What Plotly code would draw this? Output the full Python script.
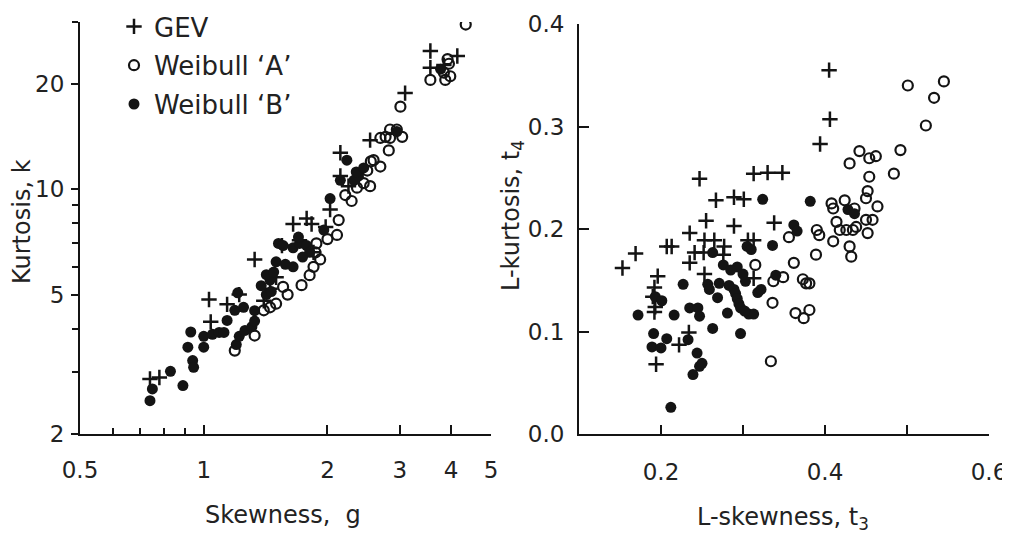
import plotly.graph_objects as go
import math

# ---------------- data ----------------
# Left panel: conventional skewness g vs kurtosis k
gev_g = [0.74, 0.78, 1.03, 1.04, 1.14, 1.22, 1.33, 1.65, 1.78, 1.83, 1.71, 2.03, 2.15, 2.15,
         2.54, 3.09, 3.56, 3.56, 4.14, 3.84, 1.45, 1.50, 1.40, 1.85, 2.25, 1.98, 1.55]
gev_k = [2.87, 2.90, 4.84, 4.18, 4.69, 5.00, 6.30, 7.95, 8.25, 7.95, 7.15, 8.75, 12.7, 10.9,
         13.8, 18.8, 24.8, 22.2, 24.0, 22.6, 5.2, 5.6, 4.8, 6.6, 10.2, 7.8, 6.9]

wa_g = [1.19, 1.33, 1.40, 1.50, 1.56, 1.73, 1.81, 1.85, 1.92, 1.87, 2.11, 2.13, 2.21, 2.29,
        2.36, 2.45, 2.54, 2.50, 2.55, 2.59, 2.69, 2.69, 2.77, 2.84, 2.82, 2.84, 2.95, 3.01,
        3.04, 3.56, 3.84, 3.92, 3.95, 3.98, 3.87, 4.34, 1.60, 1.88, 2.00, 1.45]
wa_k = [3.46, 3.82, 4.51, 4.71, 5.26, 5.32, 5.68, 6.0, 6.3, 6.6, 7.4, 8.16, 9.62, 9.25,
        10.1, 10.4, 10.2, 11.3, 12.0, 12.1, 11.6, 14.0, 14.1, 14.0, 12.9, 14.8, 14.8, 17.2,
        14.1, 20.5, 21.5, 23.5, 22.8, 21.0, 20.5, 29.5, 5.0, 7.0, 7.2, 4.6]

wb_g = [0.74, 0.75, 0.83, 0.89, 0.915, 0.93, 0.94, 0.945, 1.00, 1.00, 1.05, 1.09, 1.14, 1.19,
        1.21, 1.20, 1.22, 1.26, 1.31, 1.33, 1.33, 1.42, 1.45, 1.42, 1.48, 1.50, 1.52, 1.56,
        1.65, 1.71, 1.78, 1.81, 1.65, 1.96, 2.03, 2.15, 2.23, 2.32, 2.38, 2.35, 2.95, 3.77,
        1.38, 1.46, 1.58, 1.74, 2.45, 1.25, 1.12, 1.70]
wb_k = [2.49, 2.69, 3.02, 2.75, 3.54, 3.91, 3.24, 3.10, 3.54, 3.80, 3.85, 3.90, 4.22, 4.51,
        5.06, 3.60, 3.80, 3.95, 4.05, 4.20, 4.50, 5.0, 5.5, 5.7, 5.8, 6.2, 7.0, 6.9,
        6.8, 7.0, 6.9, 6.6, 6.0, 7.64, 9.4, 10.6, 12.1, 10.6, 10.9, 11.2, 14.6, 22.0,
        5.3, 5.1, 6.1, 6.4, 11.5, 4.6, 3.9, 7.3]

# Right panel: L-skewness t3 vs L-kurtosis t4
gev_t3 = [0.153, 0.169, 0.207, 0.213, 0.247, 0.267, 0.289, 0.301, 0.313, 0.255, 0.289, 0.235,
          0.253, 0.265, 0.277, 0.241, 0.252, 0.235, 0.253, 0.196, 0.192, 0.190, 0.306, 0.313,
          0.276, 0.330, 0.348, 0.338, 0.394, 0.406, 0.405, 0.193, 0.192, 0.222, 0.234, 0.194,
          0.313]
gev_t4 = [0.162, 0.176, 0.183, 0.183, 0.249, 0.228, 0.231, 0.229, 0.254, 0.208, 0.203, 0.196,
          0.189, 0.189, 0.183, 0.177, 0.177, 0.167, 0.156, 0.154, 0.143, 0.134, 0.189, 0.189,
          0.175, 0.255, 0.255, 0.206, 0.283, 0.307, 0.355, 0.124, 0.119, 0.087, 0.099, 0.068,
          0.152]

wa_t3 = [0.315, 0.336, 0.334, 0.337, 0.349, 0.356, 0.362, 0.364, 0.374, 0.381, 0.373, 0.377,
         0.381, 0.389, 0.390, 0.393, 0.410, 0.408, 0.410, 0.414, 0.418, 0.426, 0.424, 0.430,
         0.432, 0.430, 0.434, 0.436, 0.438, 0.442, 0.450, 0.452, 0.454, 0.462, 0.454, 0.450,
         0.452, 0.458, 0.464, 0.484, 0.492, 0.501, 0.523, 0.533, 0.545]
wa_t4 = [0.165, 0.128, 0.071, 0.149, 0.153, 0.192, 0.167, 0.118, 0.113, 0.121, 0.151, 0.147,
         0.147, 0.175, 0.199, 0.194, 0.188, 0.225, 0.220, 0.207, 0.199, 0.199, 0.228, 0.183,
         0.173, 0.264, 0.199, 0.220, 0.202, 0.276, 0.209, 0.196, 0.269, 0.271, 0.251, 0.230,
         0.237, 0.209, 0.222, 0.254, 0.277, 0.340, 0.301, 0.328, 0.344]

wb_t3 = [0.172, 0.191, 0.189, 0.200, 0.193, 0.201, 0.212, 0.216, 0.207, 0.227, 0.233, 0.235,
         0.245, 0.247, 0.244, 0.247, 0.250, 0.239, 0.257, 0.259, 0.263, 0.263, 0.269, 0.271,
         0.276, 0.281, 0.283, 0.289, 0.291, 0.293, 0.295, 0.297, 0.293, 0.297, 0.303, 0.300,
         0.307, 0.313, 0.305, 0.310, 0.318, 0.322, 0.324, 0.336, 0.340, 0.362, 0.366, 0.382,
         0.428, 0.436, 0.302, 0.285]
wb_t4 = [0.116, 0.098, 0.085, 0.084, 0.134, 0.130, 0.026, 0.116, 0.093, 0.146, 0.092, 0.123,
         0.123, 0.115, 0.079, 0.066, 0.069, 0.058, 0.146, 0.141, 0.177, 0.103, 0.133, 0.147,
         0.165, 0.118, 0.145, 0.141, 0.137, 0.132, 0.127, 0.123, 0.163, 0.098, 0.149, 0.156,
         0.117, 0.117, 0.183, 0.180, 0.138, 0.141, 0.229, 0.184, 0.155, 0.204, 0.198, 0.227,
         0.219, 0.215, 0.120, 0.160]

series_names = ["GEV", "Weibull \u2018A\u2019", "Weibull \u2018B\u2019"]

left_xticks = [0.5, 1, 2, 3, 4, 5]
left_xminor = [0.6, 0.7, 0.8, 0.9]
left_yticks = [2, 5, 10, 20]
left_yminor = [3, 4, 6, 7, 8, 9, 30]
right_xticks = [0.2, 0.4, 0.6]
right_xminor = [0.3, 0.5]
right_yticks = [0.0, 0.1, 0.2, 0.3, 0.4]

# ---------------- styling ----------------
PAGE_W, PAGE_H = 1010, 533
OFF = 8  # default page body margin
W, H = PAGE_W - OFF, PAGE_H - OFF
INK = "#141414"
TXT = "#222222"
FONT = "DejaVu Sans"

def px_x(p):
    return (p - OFF) / W

def px_y(p):
    return 1 - (p - OFF) / H

styles = [
    dict(symbol="cross-thin", size=11, color=INK, line=dict(width=2.5, color=INK)),
    dict(symbol="circle-open", size=10, color=INK, line=dict(width=2.2, color=INK)),
    dict(symbol="circle", size=11, color=INK, line=dict(width=0)),
]

fig = go.Figure()
left_data = [(gev_g, gev_k), (wa_g, wa_k), (wb_g, wb_k)]
right_data = [(gev_t3, gev_t4), (wa_t3, wa_t4), (wb_t3, wb_t4)]

for i, (name, st) in enumerate(zip(series_names, styles)):
    xs, ys = left_data[i]
    fig.add_trace(go.Scatter(x=xs, y=ys, mode="markers", name=name, marker=st,
                             legendgroup=name, showlegend=True, xaxis="x", yaxis="y"))
for i, (name, st) in enumerate(zip(series_names, styles)):
    xs, ys = right_data[i]
    fig.add_trace(go.Scatter(x=xs, y=ys, mode="markers", name=name, marker=st,
                             legendgroup=name, showlegend=False, xaxis="x2", yaxis="y2"))

axis_common = dict(showgrid=False, zeroline=False, showline=True, linecolor=INK, linewidth=2,
                   tickcolor=INK, tickwidth=2, automargin=False,
                   tickfont=dict(family=FONT, size=23, color=TXT))

fig.update_layout(
    width=W, height=H,
    autosize=False,
    margin=dict(l=0, r=0, t=0, b=0, pad=0, autoexpand=False),
    paper_bgcolor="white", plot_bgcolor="white",
    showlegend=True,
    legend=dict(x=px_x(114), y=px_y(3), xanchor="left", yanchor="top",
                font=dict(family=FONT, size=26, color=TXT), bgcolor="rgba(0,0,0,0)",
                traceorder="grouped", tracegroupgap=2, itemwidth=30),
    xaxis=dict(axis_common, type="log", domain=[px_x(80), px_x(491)],
               range=[math.log10(0.5), math.log10(5)], anchor="y",
               tickvals=left_xticks, ticktext=[str(v) for v in left_xticks],
               ticks="inside", ticklen=9, ticklabelstandoff=14,
               minor=dict(tickvals=left_xminor, ticks="inside", ticklen=6, tickcolor=INK, tickwidth=2)),
    yaxis=dict(axis_common, type="log", domain=[px_y(434), px_y(22)],
               range=[math.log10(2), math.log10(30)], anchor="x",
               tickvals=left_yticks, ticktext=[str(v) for v in left_yticks],
               ticks="outside", ticklen=7, ticklabelstandoff=2,
               minor=dict(tickvals=left_yminor, ticks="outside", ticklen=6, tickcolor=INK, tickwidth=2)),
    xaxis2=dict(axis_common, domain=[px_x(579), px_x(989)], range=[0.1, 0.6], anchor="y2",
                tickvals=right_xticks, ticktext=["0.2", "0.4", "0.6"],
                ticks="inside", ticklen=9, ticklabelstandoff=16,
                minor=dict(tickvals=right_xminor, ticks="inside", ticklen=9, tickcolor=INK, tickwidth=2)),
    yaxis2=dict(axis_common, domain=[px_y(434), px_y(24)], range=[0, 0.4], anchor="x2",
                tickvals=right_yticks, ticktext=["0.0", "0.1", "0.2", "0.3", "0.4"],
                ticks="inside", ticklen=10, ticklabelstandoff=8),
)

title_font = dict(family=FONT, size=24, color=TXT)
fig.add_annotation(x=px_x(283), y=px_y(515), xref="paper", yref="paper", text="Skewness,  g",
                   showarrow=False, font=title_font, xanchor="center", yanchor="middle")
fig.add_annotation(x=px_x(783), y=px_y(518), xref="paper", yref="paper",
                   text="L-skewness, t<sub>3</sub>",
                   showarrow=False, font=title_font, xanchor="center", yanchor="middle")
fig.add_annotation(x=px_x(22), y=px_y(222), xref="paper", yref="paper", text="Kurtosis, k",
                   showarrow=False, font=title_font, textangle=-90, xanchor="center", yanchor="middle")
fig.add_annotation(x=px_x(512), y=px_y(215), xref="paper", yref="paper",
                   text="L-kurtosis, t<sub>4</sub>",
                   showarrow=False, font=title_font, textangle=-90, xanchor="center", yanchor="middle")

fig.write_html("out.html")
